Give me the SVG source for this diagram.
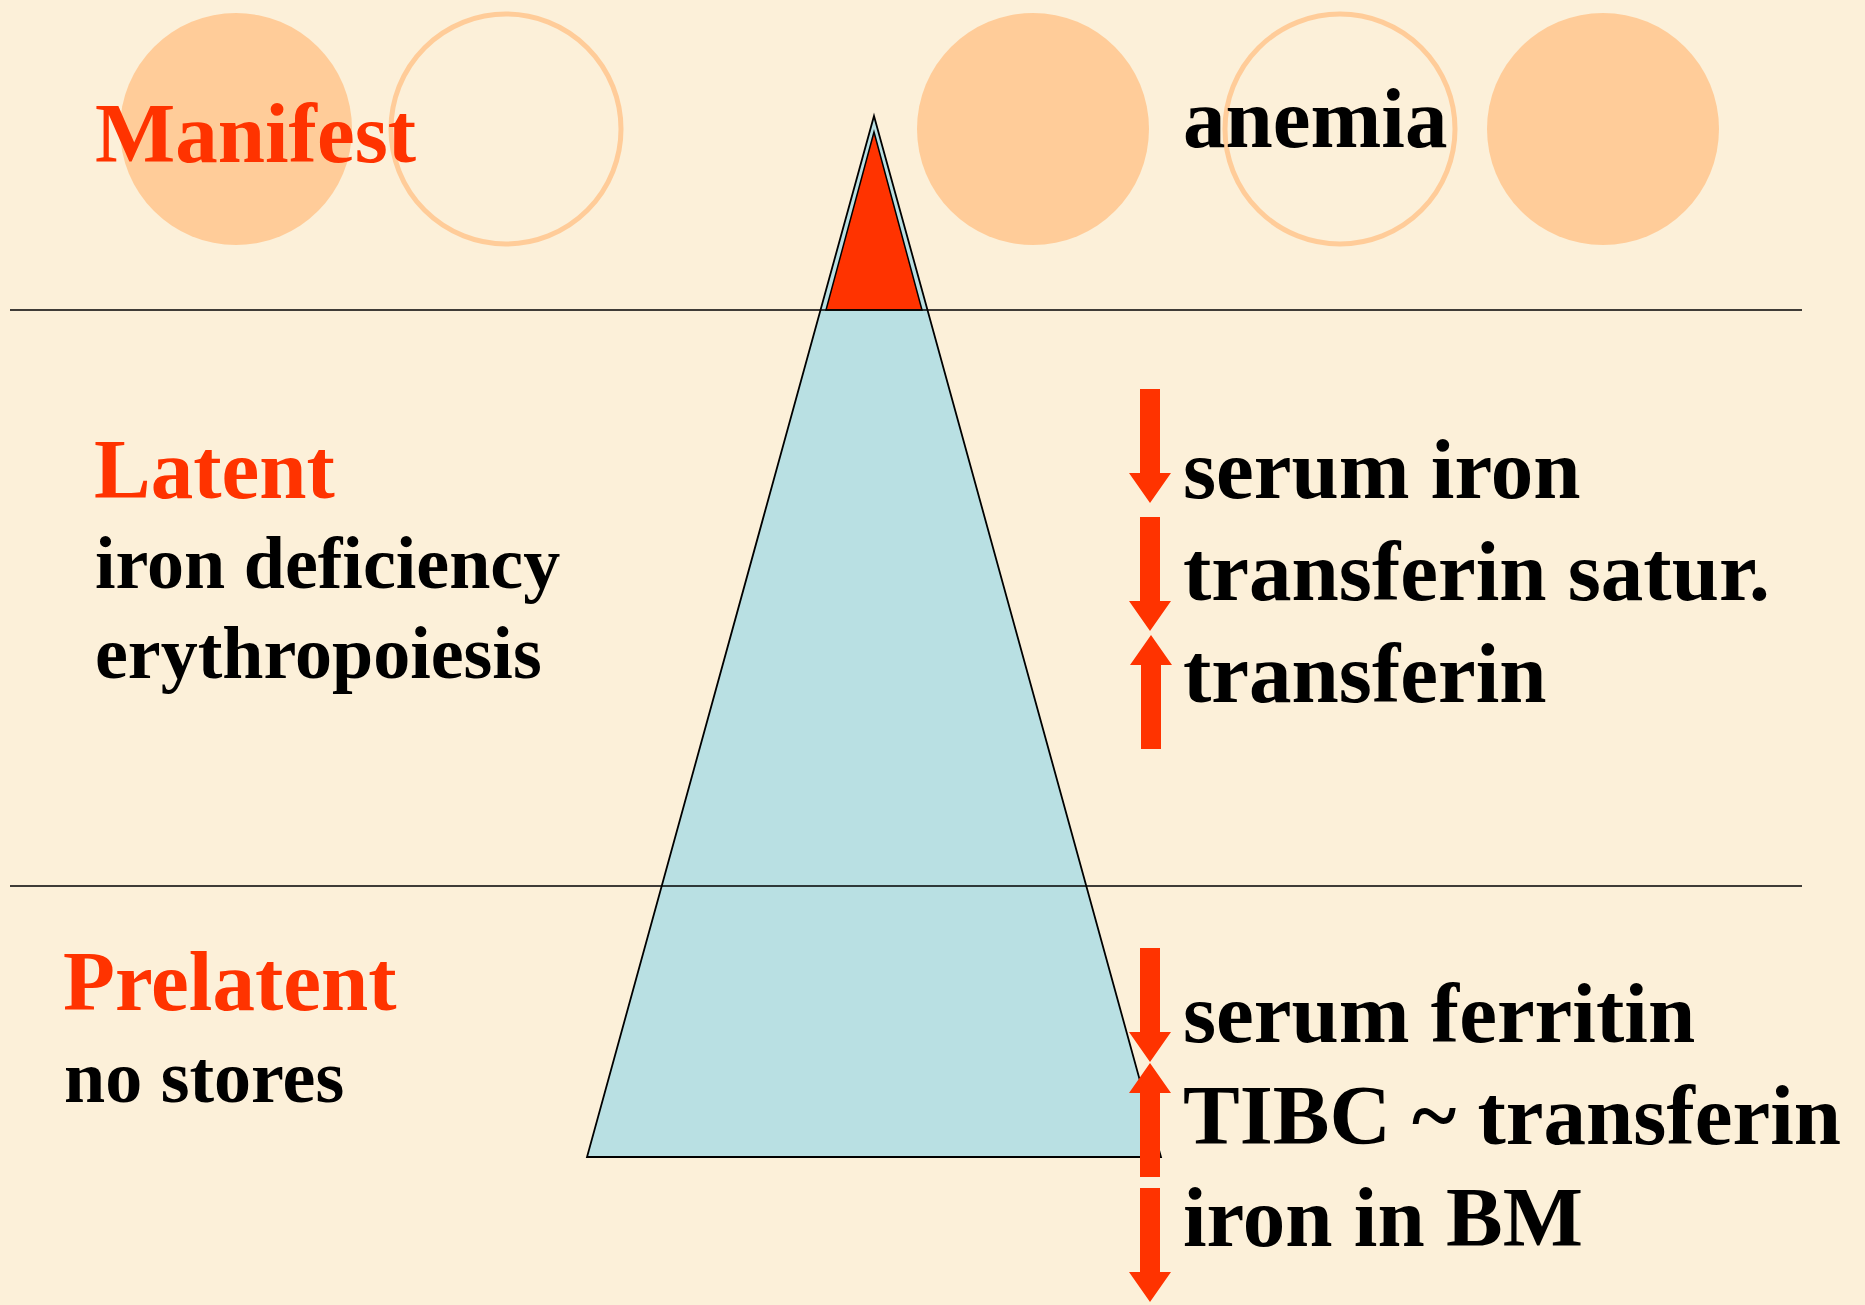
<svg xmlns="http://www.w3.org/2000/svg" width="1865" height="1305" viewBox="0 0 1865 1305">
<defs>
<style>
.t{font-family:"Liberation Serif","Times New Roman",serif;font-weight:bold;}
.big{font-size:85px;}
.sm{font-size:74px;}
.red{fill:#FF3300;}
.blk{fill:#000000;}
.disc{fill:#FFCC99;}
.ring{fill:none;stroke:#FFCC99;stroke-width:5;}
.rule{stroke:#000;stroke-width:1.6;}
.arr{fill:#FF3300;}
</style>
<path id="arrowDown" d="M-10,0 H10 V84 H21 L0,114 L-21,84 H-10 Z"/>
</defs>
<rect id="background" x="0" y="0" width="1865" height="1305" fill="#FCF0D9"/>
<g id="circles">
<circle id="c1" class="disc" cx="236" cy="129" r="116"/>
<circle id="c2" class="ring" cx="506" cy="129" r="115"/>
<circle id="c3" class="disc" cx="1033" cy="129" r="116"/>
<circle id="c4" class="ring" cx="1340" cy="129" r="115"/>
<circle id="c5" class="disc" cx="1603" cy="129" r="116"/>
</g>
<g id="pyramid">
<polygon id="pyramid-body" points="874,116 1161,1157 587,1157" fill="#B9E0E3" stroke="#000" stroke-width="1.8" stroke-linejoin="miter"/>
<polygon id="pyramid-tip" points="874,132 922,310 826,310" fill="#FF3300" stroke="#000" stroke-width="1.5"/>
</g>
<g id="connectors">
<line class="rule" x1="10" y1="310" x2="1802" y2="310"/>
<line class="rule" x1="10" y1="886" x2="1802" y2="886"/>
</g>
<g id="level-manifest">
<text class="t big red" x="95" y="162">Manifest</text>
<text class="t big blk" x="1183" y="147">anemia</text>
</g>
<g id="level-latent">
<text class="t big red" x="94" y="498">Latent</text>
<text class="t sm blk" x="95" y="588">iron deficiency</text>
<text class="t sm blk" x="95" y="678">erythropoiesis</text>
</g>
<g id="level-prelatent">
<text class="t big red" x="63" y="1010">Prelatent</text>
<text class="t sm blk" x="64" y="1102">no stores</text>
</g>
<g id="latent-markers">
<use href="#arrowDown" class="arr" transform="translate(1150,389)"/>
<use href="#arrowDown" class="arr" transform="translate(1150,517)"/>
<use href="#arrowDown" class="arr" transform="translate(1151,749) scale(1,-1)"/>
<text class="t big blk" x="1183" y="498">serum iron</text>
<text class="t big blk" x="1183" y="600">transferin satur.</text>
<text class="t big blk" x="1183" y="702">transferin</text>
</g>
<g id="prelatent-markers">
<use href="#arrowDown" class="arr" transform="translate(1150,948)"/>
<use href="#arrowDown" class="arr" transform="translate(1150,1177) scale(1,-1)"/>
<use href="#arrowDown" class="arr" transform="translate(1150,1188)"/>
<text class="t big blk" x="1183" y="1042">serum ferritin</text>
<text class="t big blk" x="1183" y="1144">TIBC ~ transferin</text>
<text class="t big blk" x="1183" y="1246">iron in BM</text>
</g>
</svg>
